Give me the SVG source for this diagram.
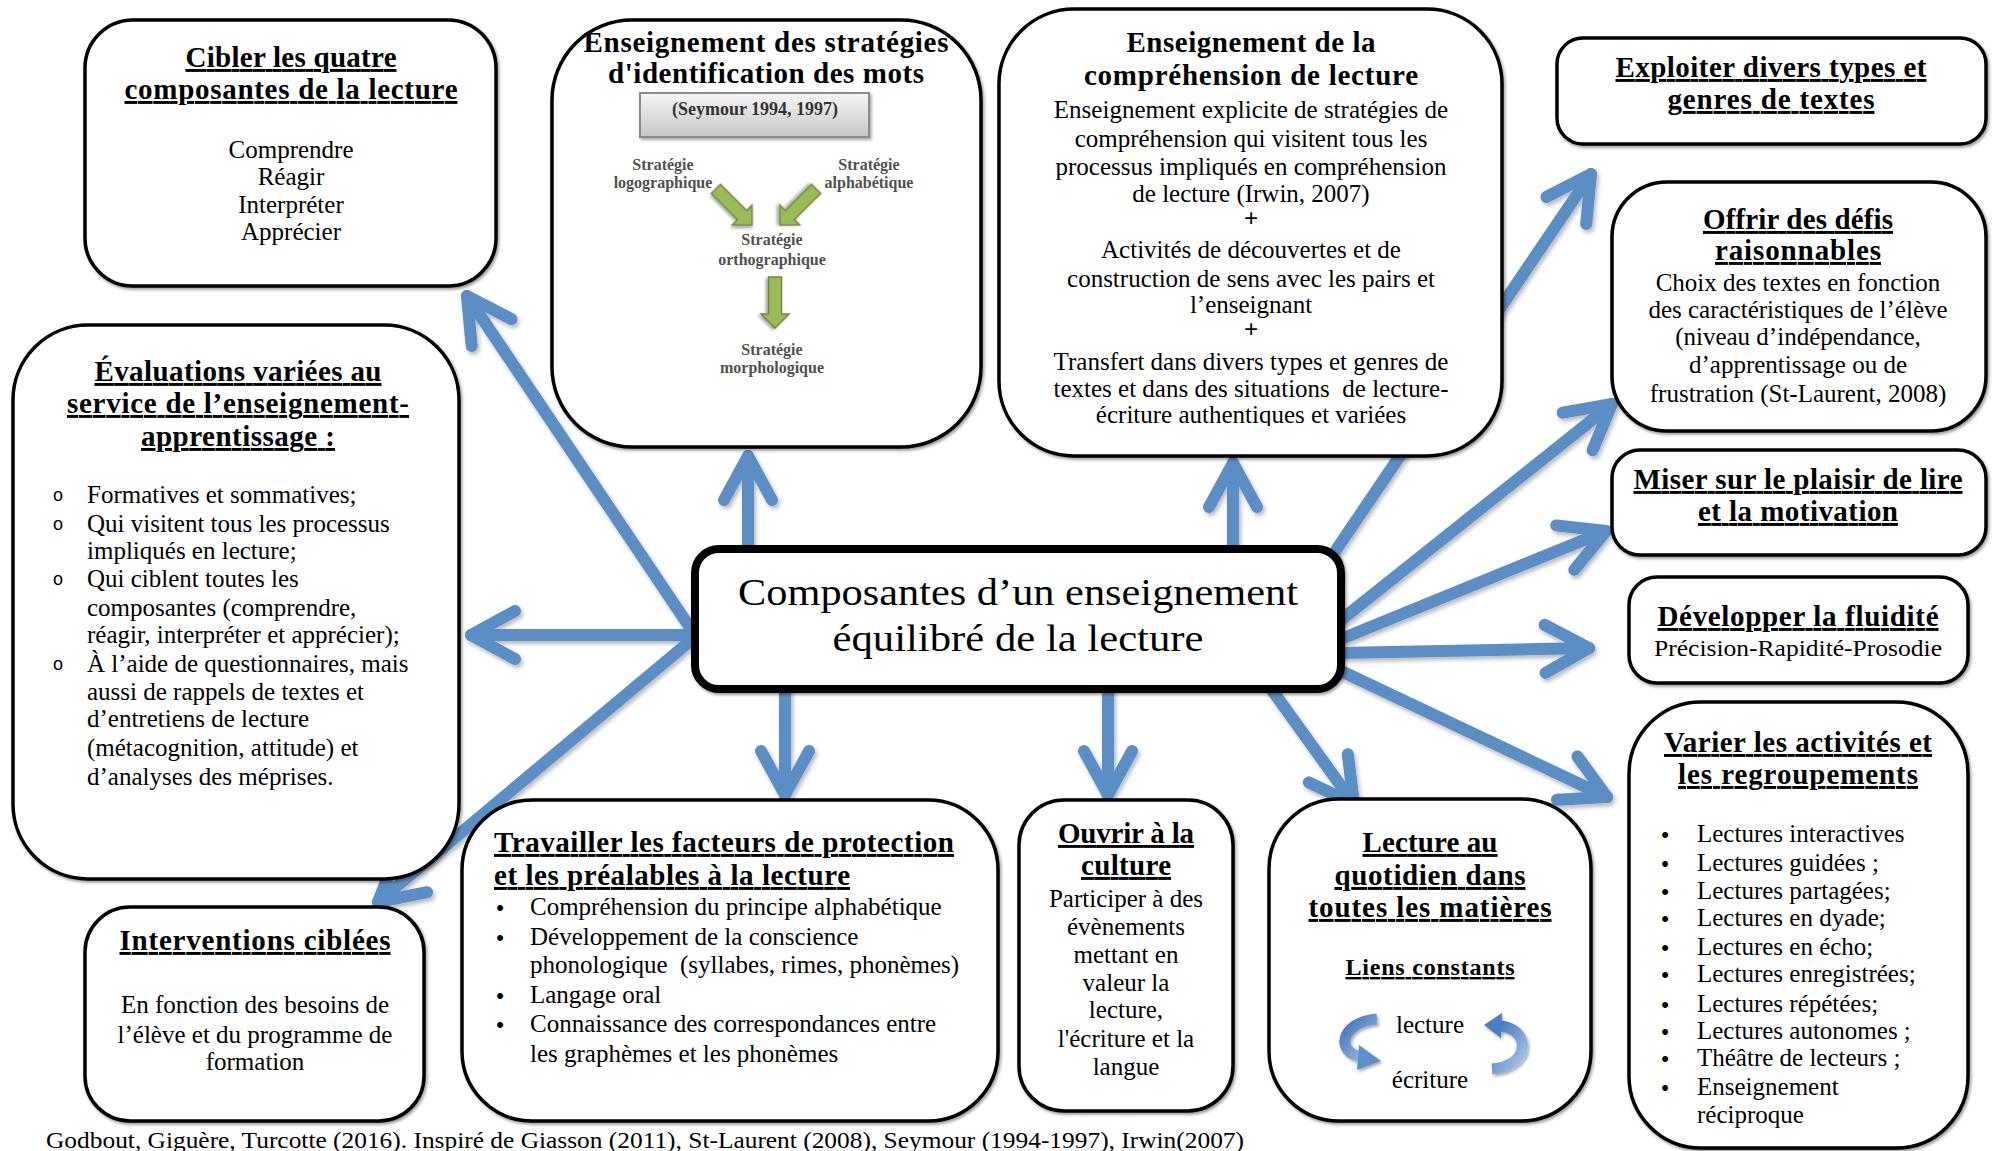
<svg xmlns="http://www.w3.org/2000/svg" width="1992" height="1151" viewBox="0 0 1992 1151">
  <defs>
    <style>
      .box { fill: #fff; stroke: #000; stroke-width: 3.5; filter: url(#boxShadow); }
      .hub { fill: #fff; stroke: #000; stroke-width: 8; filter: url(#boxShadow); }
      .t { font-family: "Liberation Serif", "DejaVu Serif", serif; fill: #000; }
      .h { font-weight: bold; font-size: 29px; }
      .b { font-size: 25px; }
      .c { text-anchor: middle; }
      .u { text-decoration: underline; }
      .small { font-family: "Liberation Serif", "DejaVu Serif", serif; font-weight: bold; font-size: 16px; fill: #505050; text-anchor: middle; }
      .ring { font-family: "Liberation Sans", Arial, sans-serif; font-size: 18px; text-anchor: middle; }
      .dot { font-family: "Liberation Sans", Arial, sans-serif; font-size: 22px; text-anchor: middle; }
      .conn { stroke: #5b8ec6; stroke-width: 12; stroke-linecap: round; fill: none; marker-end: url(#head); }
      .green { fill: #9bbb59; stroke: #71893f; stroke-width: 1.5; filter: url(#softShadow); }
    </style>
    <filter id="boxShadow" x="-5%" y="-5%" width="110%" height="115%">
      <feDropShadow dx="1.5" dy="2" stdDeviation="1.5" flood-color="#000" flood-opacity="0.4"/>
    </filter>
    <filter id="softShadow" x="-20%" y="-20%" width="140%" height="140%">
      <feDropShadow dx="1.5" dy="2" stdDeviation="1.5" flood-color="#000" flood-opacity="0.35"/>
    </filter>
    <filter id="arrowShadow" x="-10%" y="-10%" width="120%" height="120%">
      <feDropShadow dx="2" dy="3" stdDeviation="2" flood-color="#000" flood-opacity="0.28"/>
    </filter>
    <marker id="head" markerUnits="userSpaceOnUse" orient="auto" refX="0" refY="0" markerWidth="120" markerHeight="120" overflow="visible">
      <path d="M-44,-24 L0,0 L-44,24" fill="none" stroke="#5b8ec6" stroke-width="12" stroke-linecap="round" stroke-linejoin="round"/>
    </marker>
    <linearGradient id="seymourFill" x1="0" y1="0" x2="0" y2="1">
      <stop offset="0" stop-color="#f6f6f6"/>
      <stop offset="1" stop-color="#c6c6c6"/>
    </linearGradient>
    <linearGradient id="curveFill" x1="0" y1="0" x2="1" y2="1">
      <stop offset="0" stop-color="#3d72b4"/>
      <stop offset="1" stop-color="#a8c7ea"/>
    </linearGradient>
    <polygon id="blockArrow" points="0,-6.5 37,-6.5 37,-14 51,0 37,14 37,6.5 0,6.5"/>
    <clipPath id="clipComp"><rect x="999" y="0" width="503" height="426"/></clipPath>
    <clipPath id="clipVarier"><rect x="1629" y="700" width="339" height="1126"/></clipPath>
  </defs>

  <rect width="1992" height="1151" fill="#fff"/>

  <!-- spokes from the central box -->
  <g id="connectors" filter="url(#arrowShadow)">
    <line class="conn" x1="695" y1="635" x2="467" y2="296"/>
    <line class="conn" x1="695" y1="635" x2="471" y2="635"/>
    <line class="conn" x1="695" y1="637" x2="378" y2="902"/>
    <line class="conn" x1="748" y1="550" x2="748" y2="456"/>
    <line class="conn" x1="785" y1="690" x2="785" y2="795"/>
    <line class="conn" x1="1108" y1="690" x2="1108" y2="795"/>
    <line class="conn" x1="1233" y1="550" x2="1233" y2="463"/>
    <line class="conn" x1="1334" y1="553" x2="1591" y2="174"/>
    <line class="conn" x1="1341" y1="620" x2="1612" y2="404"/>
    <line class="conn" x1="1341" y1="639" x2="1606" y2="531"/>
    <line class="conn" x1="1341" y1="653" x2="1589" y2="648"/>
    <line class="conn" x1="1341" y1="671" x2="1607" y2="797"/>
    <line class="conn" x1="1272" y1="690" x2="1354" y2="804"/>
  </g>

  <g id="node-cibler">
    <rect class="box" x="85" y="20" width="411" height="266" rx="48"/>
    <text class="t h c u" x="291" y="67" textLength="211">Cibler les quatre</text>
    <text class="t h c u" x="291" y="99" textLength="333">composantes de la lecture</text>
    <text class="t b c" x="291" y="158">Comprendre</text>
    <text class="t b c" x="291" y="185">Réagir</text>
    <text class="t b c" x="291" y="213">Interpréter</text>
    <text class="t b c" x="291" y="240">Apprécier</text>
  </g>

  <g id="node-strategies">
    <rect class="box" x="552" y="20" width="429" height="427" rx="80"/>
    <text class="t h c" x="766" y="52" textLength="365">Enseignement des stratégies</text>
    <text class="t h c" x="766" y="83" textLength="316">d'identification des mots</text>
    <rect x="640" y="93" width="229" height="44" fill="url(#seymourFill)" stroke="#8a8a8a" stroke-width="2" filter="url(#softShadow)"/>
    <text class="small" x="755" y="115" style="font-size:18px; fill:#333">(Seymour 1994, 1997)</text>
    <text class="small" x="663" y="170">Stratégie</text>
    <text class="small" x="663" y="188">logographique</text>
    <text class="small" x="869" y="170">Stratégie</text>
    <text class="small" x="869" y="188">alphabétique</text>
    <use href="#blockArrow" class="green" transform="translate(752,225) rotate(45) translate(-51,0)"/>
    <use href="#blockArrow" class="green" transform="translate(780,225) rotate(135) translate(-51,0)"/>
    <text class="small" x="772" y="245">Stratégie</text>
    <text class="small" x="772" y="265">orthographique</text>
    <use href="#blockArrow" class="green" transform="translate(775,328) rotate(90) translate(-51,0)"/>
    <text class="small" x="772" y="355">Stratégie</text>
    <text class="small" x="772" y="373">morphologique</text>
  </g>

  <g id="node-comprehension">
    <rect class="box" x="999" y="9" width="503" height="447" rx="75"/>
    <text class="t h c" x="1251" y="52" textLength="249">Enseignement de la</text>
    <text class="t h c" x="1251" y="85" textLength="334">compréhension de lecture</text>
    <text class="t b c" x="1251" y="118">Enseignement explicite de stratégies de</text>
    <text class="t b c" x="1251" y="147">compréhension qui visitent tous les</text>
    <text class="t b c" x="1251" y="175">processus impliqués en compréhension</text>
    <text class="t b c" x="1251" y="202">de lecture (Irwin, 2007)</text>
    <text class="t b c" x="1251" y="227" font-weight="bold">+</text>
    <text class="t b c" x="1251" y="258">Activités de découvertes et de</text>
    <text class="t b c" x="1251" y="287">construction de sens avec les pairs et</text>
    <text class="t b c" x="1251" y="313">l’enseignant</text>
    <text class="t b c" x="1251" y="338" font-weight="bold">+</text>
    <text class="t b c" x="1251" y="370">Transfert dans divers types et genres de</text>
    <text class="t b c" x="1251" y="397" xml:space="preserve">textes et dans des situations  de lecture-</text>
    <text class="t b c" x="1251" y="423" clip-path="url(#clipComp)">écriture authentiques et variées</text>
  </g>

  <g id="node-exploiter">
    <rect class="box" x="1557" y="38" width="429" height="106" rx="26"/>
    <text class="t h c u" x="1771" y="77" textLength="311">Exploiter divers types et</text>
    <text class="t h c u" x="1771" y="109" textLength="207">genres de textes</text>
  </g>

  <g id="node-defis">
    <rect class="box" x="1612" y="182" width="374" height="249" rx="55"/>
    <text class="t h c u" x="1798" y="229" textLength="190">Offrir des défis</text>
    <text class="t h c u" x="1798" y="260" textLength="166">raisonnables</text>
    <text class="t b c" x="1798" y="291">Choix des textes en fonction</text>
    <text class="t b c" x="1798" y="318">des caractéristiques de l’élève</text>
    <text class="t b c" x="1798" y="345">(niveau d’indépendance,</text>
    <text class="t b c" x="1798" y="373">d’apprentissage ou de</text>
    <text class="t b c" x="1798" y="402">frustration (St-Laurent, 2008)</text>
  </g>

  <g id="node-plaisir">
    <rect class="box" x="1612" y="450" width="374" height="105" rx="28"/>
    <text class="t h c u" x="1798" y="489" textLength="329">Miser sur le plaisir de lire</text>
    <text class="t h c u" x="1798" y="521" textLength="200">et la motivation</text>
  </g>

  <g id="node-fluidite">
    <rect class="box" x="1629" y="577" width="339" height="106" rx="28"/>
    <text class="t h c u" x="1798" y="626" textLength="281">Développer la fluidité</text>
    <text class="t c" x="1798" y="656" font-size="24" textLength="288" lengthAdjust="spacingAndGlyphs">Précision-Rapidité-Prosodie</text>
  </g>

  <g id="node-activites">
    <rect class="box" x="1629" y="702" width="339" height="446" rx="72"/>
    <text class="t h c u" x="1798" y="752" textLength="268">Varier les activités et</text>
    <text class="t h c u" x="1798" y="784" textLength="240">les regroupements</text>
    <g class="t b">
      <text class="dot" x="1665" y="842">•</text><text x="1697" y="842">Lectures interactives</text>
      <text class="dot" x="1665" y="871">•</text><text x="1697" y="871">Lectures guidées ;</text>
      <text class="dot" x="1665" y="899">•</text><text x="1697" y="899">Lectures partagées;</text>
      <text class="dot" x="1665" y="926">•</text><text x="1697" y="926">Lectures en dyade;</text>
      <text class="dot" x="1665" y="955">•</text><text x="1697" y="955">Lectures en écho;</text>
      <text class="dot" x="1665" y="982">•</text><text x="1697" y="982">Lectures enregistrées;</text>
      <text class="dot" x="1665" y="1012">•</text><text x="1697" y="1012">Lectures répétées;</text>
      <text class="dot" x="1665" y="1039">•</text><text x="1697" y="1039">Lectures autonomes ;</text>
      <text class="dot" x="1665" y="1066">•</text><text x="1697" y="1066">Théâtre de lecteurs ;</text>
      <text class="dot" x="1665" y="1095">•</text><text x="1697" y="1095">Enseignement</text>
      <text x="1697" y="1123" clip-path="url(#clipVarier)">réciproque</text>
    </g>
  </g>

  <g id="node-quotidien">
    <rect class="box" x="1269" y="799" width="322" height="322" rx="70"/>
    <text class="t h c u" x="1430" y="852" textLength="135">Lecture au</text>
    <text class="t h c u" x="1430" y="885" textLength="191">quotidien dans</text>
    <text class="t h c u" x="1430" y="917" textLength="243">toutes les matières</text>
    <text class="t c u" x="1430" y="975" font-size="24" font-weight="bold" textLength="169">Liens constants</text>
    <text class="t b c" x="1430" y="1033">lecture</text>
    <text class="t b c" x="1430" y="1088">écriture</text>
    <g filter="url(#softShadow)">
      <path d="M1377,1019 C1340,1022 1335,1053 1362,1057" fill="none" stroke="url(#curveFill)" stroke-width="11"/>
      <polygon points="1359,1045 1381,1061 1357,1070" fill="#5d8fcb"/>
      <path d="M1492,1069 C1532,1066 1530,1028 1500,1026" fill="none" stroke="url(#curveFill)" stroke-width="11"/>
      <polygon points="1502,1013 1484,1025 1501,1038" fill="#4a7fc0"/>
    </g>
  </g>

  <g id="node-culture">
    <rect class="box" x="1019" y="800" width="214" height="311" rx="45"/>
    <text class="t h c u" x="1126" y="843" textLength="136">Ouvrir à la</text>
    <text class="t h c u" x="1126" y="875" textLength="90">culture</text>
    <text class="t b c" x="1126" y="907">Participer à des</text>
    <text class="t b c" x="1126" y="935">évènements</text>
    <text class="t b c" x="1126" y="963">mettant en</text>
    <text class="t b c" x="1126" y="991">valeur la</text>
    <text class="t b c" x="1126" y="1018">lecture,</text>
    <text class="t b c" x="1126" y="1047">l'écriture et la</text>
    <text class="t b c" x="1126" y="1075">langue</text>
  </g>

  <g id="node-facteurs">
    <rect class="box" x="462" y="800" width="536" height="321" rx="70"/>
    <text class="t h u" x="494" y="852" textLength="460">Travailler les facteurs de protection</text>
    <text class="t h u" x="494" y="885" textLength="356">et les préalables à la lecture</text>
    <g class="t b">
      <text class="dot" x="500" y="915">•</text><text x="530" y="915">Compréhension du principe alphabétique</text>
      <text class="dot" x="500" y="945">•</text><text x="530" y="945">Développement de la conscience</text>
      <text x="530" y="973" xml:space="preserve">phonologique  (syllabes, rimes, phonèmes)</text>
      <text class="dot" x="500" y="1003">•</text><text x="530" y="1003">Langage oral</text>
      <text class="dot" x="500" y="1032">•</text><text x="530" y="1032">Connaissance des correspondances entre</text>
      <text x="530" y="1062">les graphèmes et les phonèmes</text>
    </g>
  </g>

  <g id="node-interventions">
    <rect class="box" x="85" y="907" width="339" height="214" rx="45"/>
    <text class="t h c u" x="255" y="950" textLength="271">Interventions ciblées</text>
    <text class="t b c" x="255" y="1013">En fonction des besoins de</text>
    <text class="t b c" x="255" y="1043">l’élève et du programme de</text>
    <text class="t b c" x="255" y="1070">formation</text>
  </g>

  <g id="node-evaluations">
    <rect class="box" x="13" y="325" width="446" height="554" rx="75"/>
    <text class="t h c u" x="238" y="381" textLength="287">Évaluations variées au</text>
    <text class="t h c u" x="238" y="413" textLength="342">service de l’enseignement-</text>
    <text class="t h c u" x="238" y="446" textLength="194">apprentissage :</text>
    <g class="t b">
      <text class="ring" x="58" y="501">o</text><text x="87" y="503">Formatives et sommatives;</text>
      <text class="ring" x="58" y="530">o</text><text x="87" y="532">Qui visitent tous les processus</text>
      <text x="87" y="559">impliqués en lecture;</text>
      <text class="ring" x="58" y="585">o</text><text x="87" y="587">Qui ciblent toutes les</text>
      <text x="87" y="616">composantes (comprendre,</text>
      <text x="87" y="643">réagir, interpréter et apprécier);</text>
      <text class="ring" x="58" y="670">o</text><text x="87" y="672">À l’aide de questionnaires, mais</text>
      <text x="87" y="700">aussi de rappels de textes et</text>
      <text x="87" y="727">d’entretiens de lecture</text>
      <text x="87" y="756">(métacognition, attitude) et</text>
      <text x="87" y="785">d’analyses des méprises.</text>
    </g>
  </g>

  <g id="node-centre">
    <rect class="hub" x="695" y="549" width="646" height="140" rx="24"/>
    <text class="t c" x="1018" y="605" font-size="38" textLength="560" lengthAdjust="spacingAndGlyphs">Composantes d’un enseignement</text>
    <text class="t c" x="1018" y="651" font-size="38" textLength="371" lengthAdjust="spacingAndGlyphs">équilibré de la lecture</text>
  </g>

  <text class="t" x="46" y="1148" font-size="24" textLength="1198" lengthAdjust="spacingAndGlyphs">Godbout, Giguère, Turcotte (2016). Inspiré de Giasson (2011), St-Laurent (2008), Seymour (1994-1997), Irwin(2007)</text>
</svg>
